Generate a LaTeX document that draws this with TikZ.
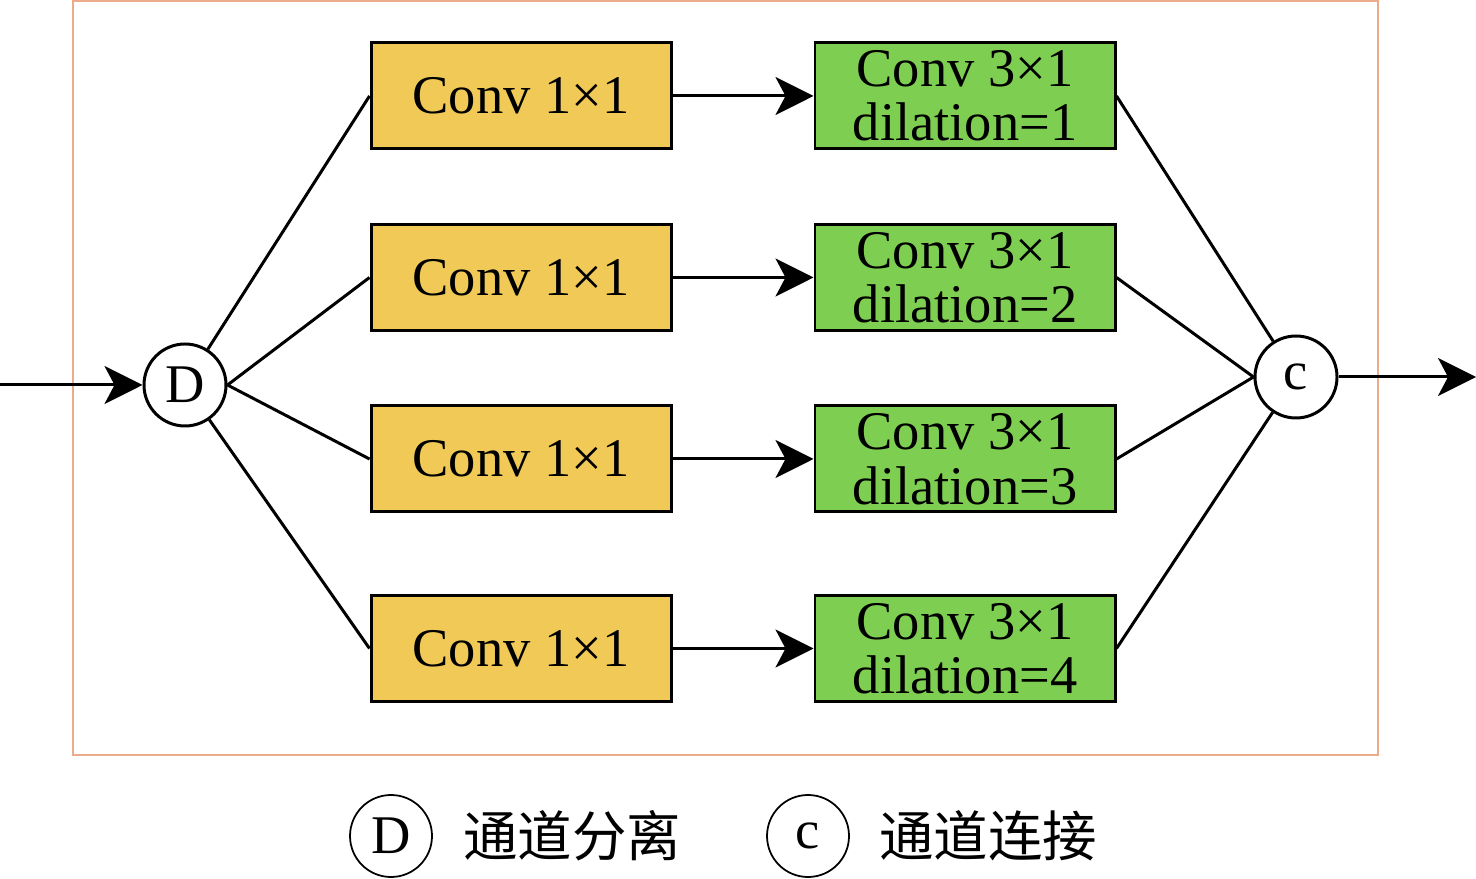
\documentclass[tikz,border=0pt]{standalone}
\usepackage{fontspec}
\setmainfont{Liberation Serif}
\newfontfamily\cjk{Noto Sans CJK SC}
\usepackage{tikz}
\usetikzlibrary{positioning}
\usetikzlibrary{arrows.meta}

\begin{document}
\begin{tikzpicture}[->,>={Stealth[length=3.8mm,width=3.8mm,inset=1mm]},line width=0.85pt,
	node distance=1.41cm,
	conv node/.style={rectangle,draw,minimum width=3cm,minimum height=1.06cm,inner sep=0pt,font=\fontsize{15.5}{15.5}\selectfont,align=center},
	op node/.style={circle,draw,fill=white,minimum size=0.82cm,inner sep=0pt,font=\fontsize{15.5}{16}\selectfont}]
	
	\definecolor{convyellow}{RGB}{240,201,86}
	\definecolor{convgreen}{RGB}{126,206,82}
	\definecolor{framepeach}{RGB}{236,172,140}
	
	\useasboundingbox (0,0) rectangle (14.76,8.78);
	\draw[-,framepeach,line width=0.6pt] (0.73,8.77) rectangle (13.78,1.23);
	
	\node[op node] (d) at (1.85,4.93) {D};
	\node[op node] (c) at (12.96,5.01) {c};
	
	\node[conv node, fill=convyellow] (a1) at (5.21,7.82) {Conv 1×1};
	\node[conv node, fill=convyellow] (a2) at (5.21,6.005) {Conv 1×1};
	\node[conv node, fill=convyellow] (a3) at (5.21,4.19) {Conv 1×1};
	\node[conv node, fill=convyellow] (a4) at (5.21,2.295) {Conv 1×1};
	\node[conv node, fill=convgreen] (b1) [right=of a1] {Conv 3×1\\dilation=1};
	\node[conv node, fill=convgreen] (b2) [right=of a2] {Conv 3×1\\dilation=2};
	\node[conv node, fill=convgreen] (b3) [right=of a3] {Conv 3×1\\dilation=3};
	\node[conv node, fill=convgreen] (b4) [right=of a4] {Conv 3×1\\dilation=4};
	
	\coordinate (in) at (0,4.93);
	\coordinate (out) at (14.76,5.01);
	
	\path
	(in) edge (d)
	(d) edge[-] (a1.west)
	(d.east) edge[-] (a2.west)
	(d.east) edge[-] (a3.west)
	(d) edge[-] (a4.west)
	(a1) edge (b1)
	(a2) edge (b2)
	(a3) edge (b3)
	(a4) edge (b4)
	(b1.east) edge[-] (c)
	(b2.east) edge[-] (c.west)
	(b3.east) edge[-] (c.west)
	(b4.east) edge[-] (c)
	(c) edge (out);
	
	% legend
	\node[op node, line width=0.5pt] (ld) at (3.91,0.42) {D};
	\node[font=\cjk\fontsize{15.5}{16}\selectfont] (ltd) at (5.72,0.42) {通道分离};
	\node[op node, line width=0.5pt] (lc) at (8.08,0.42) {c};
	\node[font=\cjk\fontsize{15.5}{16}\selectfont] (ltc) at (9.88,0.42) {通道连接};
\end{tikzpicture}
\end{document}
